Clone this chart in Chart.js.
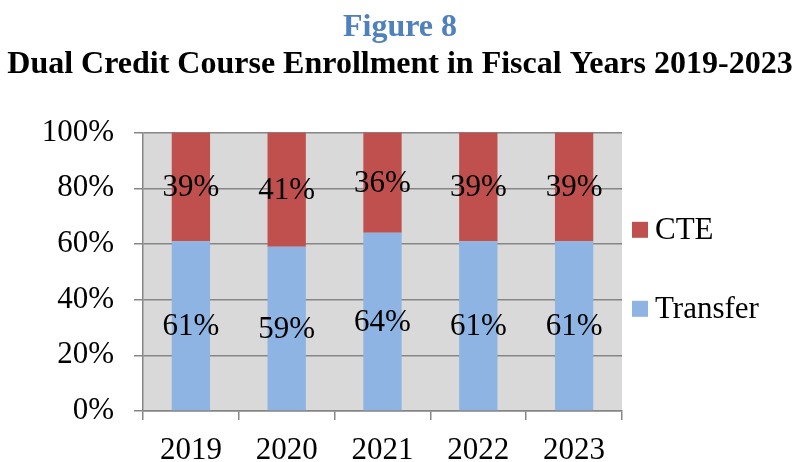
<!DOCTYPE html>
<html>
<head>
<meta charset="utf-8">
<script src="https://cdn.jsdelivr.net/npm/chart.js@4/dist/chart.umd.min.js"></script>
<style>
    html, body { margin: 0; padding: 0; background: #fff; }
    #wrap { width: 800px; height: 462px; }
</style>
</head>
<body>
<div id="wrap"><canvas id="chart" width="800" height="462"></canvas></div>
<script>
const years = ['2019', '2020', '2021', '2022', '2023'];
const transfer = [61, 59, 64, 61, 61];
const cte = [39, 41, 36, 39, 39];
const yTicks = [0, 20, 40, 60, 80, 100];

const SERIF = '"Liberation Serif", "Times New Roman", serif';
const gridGray = '#868686';

// fond gris de la zone de tracé
const plotBackground = {
    id: 'plotBackground',
    beforeDraw(chart) {
        const { ctx, chartArea: a } = chart;
        ctx.save();
        ctx.fillStyle = '#D9D9D9';
        ctx.fillRect(a.left, a.top, a.right - a.left, a.bottom - a.top);
        ctx.restore();
    }
};

// étiquettes au centre de chaque segment
const segmentLabels = {
    id: 'segmentLabels',
    afterDatasetsDraw(chart) {
        const { ctx } = chart;
        ctx.save();
        ctx.font = '31px ' + SERIF;
        ctx.fillStyle = '#000';
        ctx.textAlign = 'center';
        ctx.textBaseline = 'middle';
        chart.data.datasets.forEach((ds, i) => {
            chart.getDatasetMeta(i).data.forEach((bar, j) => {
                ctx.fillText(ds.data[j] + '%', bar.x, (bar.y + bar.base) / 2 + 1);
            });
        });
        ctx.restore();
    }
};

// légende à droite (boîte de mise en page), CTE au-dessus de Transfer
const sideLegend = {
    id: 'sideLegend',
    start(chart) {
        const box = {
            position: 'right',
            weight: 1000,
            fullSize: false,
            options: {},
            isHorizontal() { return false; },
            update(maxWidth, maxHeight) {
                this.width = 178;
                this.height = maxHeight;
            },
            draw() {
                const { ctx, chartArea: a } = chart;
                const mid = (a.top + a.bottom) / 2;
                const rows = [
                    { ds: chart.data.datasets[1], y: mid - 42 },
                    { ds: chart.data.datasets[0], y: mid + 37 }
                ];
                ctx.save();
                ctx.font = '31px ' + SERIF;
                ctx.textBaseline = 'middle';
                ctx.textAlign = 'left';
                rows.forEach(r => {
                    ctx.fillStyle = r.ds.backgroundColor;
                    ctx.fillRect(this.left + 10, r.y - 8, 16, 16);
                    ctx.fillStyle = '#000';
                    ctx.fillText(r.ds.label, this.left + 33, r.y + 1);
                });
                ctx.restore();
            }
        };
        Chart.layouts.addBox(chart, box);
    }
};

new Chart(document.getElementById('chart'), {
    type: 'bar',
    data: {
        labels: years,
        datasets: [
            { label: 'Transfer', data: transfer, backgroundColor: '#8EB4E3', barPercentage: 0.4, categoryPercentage: 1 },
            { label: 'CTE', data: cte, backgroundColor: '#C0504D', barPercentage: 0.4, categoryPercentage: 1 }
        ]
    },
    options: {
        responsive: false,
        animation: false,
        layout: { padding: 0 },
        scales: {
            x: {
                stacked: true,
                afterFit(scale) { scale.height = 51; },
                grid: { offset: true, drawOnChartArea: false, drawTicks: true, tickLength: 9, color: gridGray, lineWidth: 1.5 },
                border: { color: gridGray, width: 1.5 },
                ticks: { color: '#000', font: { family: SERIF, size: 31, lineHeight: 1 }, padding: 15 }
            },
            y: {
                stacked: true,
                min: 0,
                max: 100,
                afterBuildTicks(scale) { scale.ticks = yTicks.map(v => ({ value: v })); },
                afterFit(scale) { scale.width = 143; },
                grid: { color: gridGray, lineWidth: 1.5, tickLength: 9 },
                border: { color: gridGray, width: 1.5 },
                ticks: { color: '#000', font: { family: SERIF, size: 31 }, padding: 20, callback: v => v + '%' }
            }
        },
        plugins: {
            title: {
                display: true,
                text: 'Figure 8',
                color: '#4F81BD',
                font: { family: SERIF, size: 32, weight: 'bold', lineHeight: 1.2 },
                padding: { top: 9, bottom: 0 }
            },
            subtitle: {
                display: true,
                text: 'Dual Credit Course Enrollment in Fiscal Years 2019-2023',
                color: '#000',
                font: { family: SERIF, size: 32, weight: 'bold', lineHeight: 1.1 },
                padding: { top: 0, bottom: 50 }
            },
            legend: { display: false },
            tooltip: { enabled: false }
        }
    },
    plugins: [plotBackground, segmentLabels, sideLegend]
});
</script>
</body>
</html>
